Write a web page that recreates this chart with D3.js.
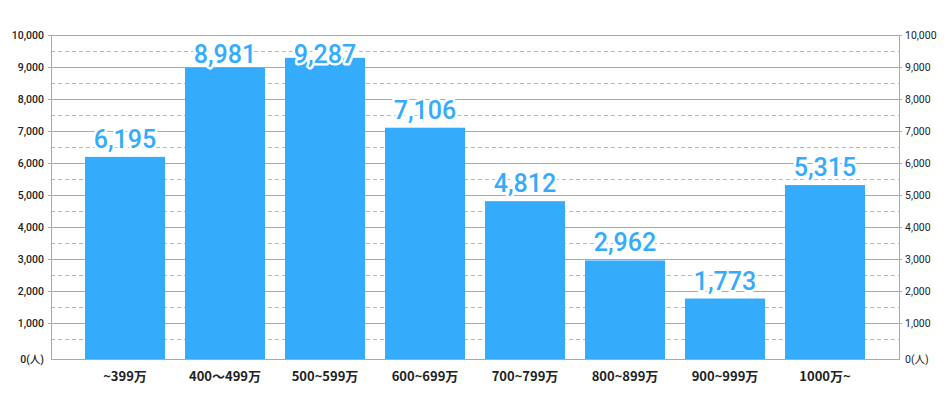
<!DOCTYPE html>
<html><head><meta charset="utf-8">
<script src="https://cdn.jsdelivr.net/npm/d3@7"></script>
<style>body{margin:0;background:#fff;}svg{display:block;}</style>
</head><body><svg id="c" width="950" height="409"></svg>
<script>
const categories = ["~399万","400〜499万","500~599万","600~699万","700~799万","800~899万","900~999万","1000万~"];
const values = [6195, 8981, 9287, 7106, 4812, 2962, 1773, 5315];
const majorTicks = [0,1000,2000,3000,4000,5000,6000,7000,8000,9000,10000];
const minorTicks = [500,1500,2500,3500,4500,5500,6500,7500,8500,9500];

(function(){
const svg = d3.select("#c");
const pL = 51, pR = 899, pT = 35, pB = 359;
const y = d3.scaleLinear().domain([-115, 10000]).range([pB, pT]);
const x = d3.scaleBand().domain(categories).range([75, 875]).paddingInner(0.2).paddingOuter(0.1);
const fmt = d3.format(",");
const tickLabel = v => v === 0 ? "0(人)" : fmt(v);

// minor dashed grid
svg.append("g").selectAll("line").data(minorTicks).join("line")
  .attr("x1", pL).attr("x2", pR)
  .attr("y1", d => Math.round(y(d)) + 0.5).attr("y2", d => Math.round(y(d)) + 0.5)
  .attr("stroke", "#b8b8b8").attr("stroke-dasharray", "4,3");
// major grid
svg.append("g").selectAll("line").data(majorTicks.filter(d => d > 0)).join("line")
  .attr("x1", pL - 3).attr("x2", pR + 3)
  .attr("y1", d => Math.round(y(d)) + 0.5).attr("y2", d => Math.round(y(d)) + 0.5)
  .attr("stroke", "#aaaaaa");

// bars
svg.append("g").selectAll("rect").data(values).join("rect")
  .attr("x", (d, i) => x(categories[i]))
  .attr("width", x.bandwidth())
  .attr("y", d => y(d))
  .attr("height", d => pB - y(d))
  .attr("fill", "#35abfc");

// frame
svg.append("line").attr("x1", pL + 0.5).attr("x2", pL + 0.5).attr("y1", pT).attr("y2", pB + 1).attr("stroke", "#aaaaaa");
svg.append("line").attr("x1", pR + 0.5).attr("x2", pR + 0.5).attr("y1", pT).attr("y2", pB + 1).attr("stroke", "#aaaaaa");
svg.append("line").attr("x1", pL).attr("x2", pR + 1).attr("y1", pB + 0.5).attr("y2", pB + 0.5).attr("stroke", "#aaaaaa");

// tick labels
const labY = d => d === 0 ? pB + 4 : y(d) + 4;
svg.append("g").selectAll("text").data(majorTicks).join("text")
  .attr("x", 44).attr("y", labY).attr("text-anchor", "end")
  .attr("font-family", "Roboto, 'Noto Sans CJK JP', sans-serif").attr("font-size", 10.5).attr("font-weight", 500)
  .attr("fill", "#222").text(tickLabel);
svg.append("g").selectAll("text").data(majorTicks).join("text")
  .attr("x", 905).attr("y", labY).attr("text-anchor", "start")
  .attr("font-family", "Roboto, 'Noto Sans CJK JP', sans-serif").attr("font-size", 10.5).attr("font-weight", 400)
  .attr("fill", "#222").text(tickLabel);

// category labels
svg.append("g").selectAll("text").data(categories).join("text")
  .attr("x", d => x(d) + x.bandwidth() / 2).attr("y", 381).attr("text-anchor", "middle")
  .attr("font-family", "'Noto Sans CJK JP', sans-serif").attr("font-size", 13).attr("font-weight", 700)
  .attr("fill", "#222").text(d => d);

// value labels
svg.append("g").selectAll("text").data(values).join("text")
  .attr("x", (d, i) => x(categories[i]) + x.bandwidth() / 2)
  .attr("y", d => Math.max(y(d) - 9, 63))
  .attr("text-anchor", "middle")
  .attr("font-family", "Roboto, sans-serif").attr("font-size", 25).attr("font-weight", 500)
  .attr("fill", "#35abfc").attr("stroke", "#fff").attr("stroke-width", 5).attr("stroke-linejoin", "round")
  .attr("paint-order", "stroke")
  .text(d => fmt(d));
})();
</script></body></html>
